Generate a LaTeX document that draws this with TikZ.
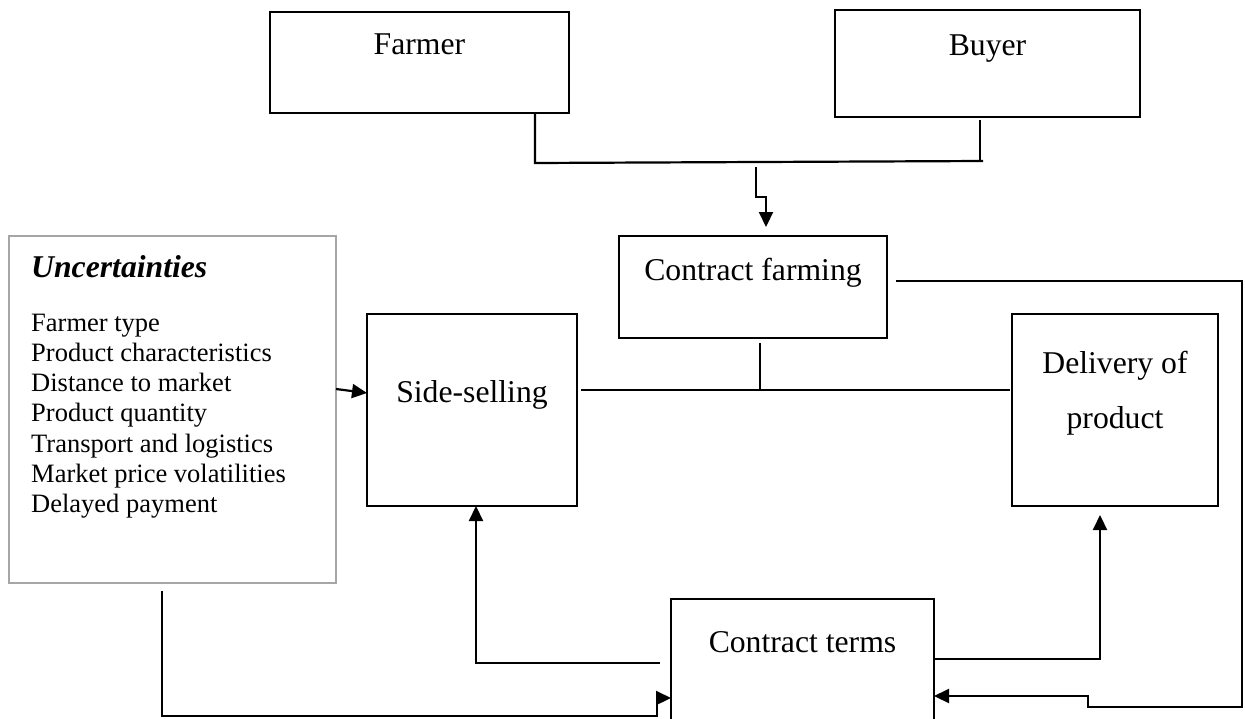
\documentclass[tikz,border=0pt]{standalone}
\usepackage{fontspec}
\setmainfont{Liberation Serif}
\usetikzlibrary{arrows.meta}
\begin{document}
\begin{tikzpicture}[x=1pt,y=-1pt,
  box/.style={draw=black, line width=2.2pt, inner sep=0pt, outer sep=0pt},
  greybox/.style={draw=black!35, line width=2pt, inner sep=0pt, outer sep=0pt},
  conn/.style={line width=2.2pt},
  arr/.style={conn, -{Triangle[length=15pt,width=14pt]}},
  lbl/.style={anchor=base, inner sep=0pt, font=\fontsize{31.7}{38}\selectfont},
  listitem/.style={anchor=base west, inner sep=0pt, font=\fontsize{26.5}{30}\selectfont}]

% canvas
\fill[white] (0,0) rectangle (1245,718);
\clip (0,0) rectangle (1245,718);

% boxes
\node[box, minimum width=299pt, minimum height=101pt] (farmer) at (419.5,62.5) {};
\node[box, minimum width=305pt, minimum height=107pt] (buyer)  at (987.5,63.5) {};
\node[box, minimum width=268pt, minimum height=102pt] (cf)     at (753,287) {};
\node[box, minimum width=210pt, minimum height=192pt] (side)   at (472,410) {};
\node[box, minimum width=206pt, minimum height=192pt] (deliv)  at (1115,410) {};
\node[box, minimum width=263pt, minimum height=161pt] (terms)  at (802.5,679.5) {};
\node[greybox, minimum width=327pt, minimum height=347pt] (unc) at (172.5,409.5) {};

% box labels
\node[lbl] (farmerlbl) at (419.5,54) {Farmer};
\node[lbl] (buyerlbl)  at (987.5,55) {Buyer};
\node[lbl] (cflbl)     at (753,280) {Contract farming};
\node[lbl] (sidelbl)   at (472,402) {Side-selling};
\node[lbl] (deliv1)    at (1115,373) {Delivery of};
\node[lbl] (deliv2)    at (1115,428) {product};
\node[lbl] (termslbl)  at (802.5,652) {Contract terms};

% uncertainties list
\node[anchor=base west, inner sep=0pt, font=\fontsize{31.7}{38}\selectfont\bfseries\itshape]
  (unchead) at (31,277) {Uncertainties};
\foreach \t [count=\i from 0] in {Farmer type, Product characteristics,
    Distance to market, Product quantity, Transport and logistics,
    Market price volatilities, Delayed payment}
  \node[listitem] (item\i) at (31,331+30.3*\i) {\t};

% farmer and buyer join, then down to contract farming
\coordinate (fjoin) at (535,163);
\coordinate (bjoin) at (983,161);
\coordinate (bdrop) at (980,120);
\draw[conn] (fjoin |- farmer.south) -- (fjoin) -- (bjoin);
\draw[conn] (bdrop) -- (bdrop |- bjoin);

\coordinate (down1) at (756,167);
\coordinate (jog) at (766,197);
\draw[arr, shorten >=9pt] (down1) -- (down1 |- jog) -- (jog) -- (jog |- cf.north);

% contract farming splits to side-selling and delivery
\coordinate (mid) at (760,390);
\coordinate (stubtop) at (760,343);
\draw[conn, shorten <=4pt, shorten >=2pt] (side.east |- mid) -- (deliv.west |- mid);
\draw[conn] (stubtop) -- (mid);

% uncertainties to side-selling
\coordinate (uout) at (336,389);
\coordinate (uin) at (367,393);
\draw[arr] (uout) -- (uin);

% contract terms back to side-selling
\coordinate (tl) at (660,663);
\coordinate (tlc) at (476,663);
\draw[arr] (tl) -- (tlc) -- (tlc |- side.south);

% contract terms to delivery of product
\coordinate (tr) at (1100,659);
\draw[arr, shorten >=9pt] (terms.east |- tr) -- (tr) -- (tr |- deliv.south);

% uncertainties down into contract terms
\coordinate (ub) at (162,591);
\coordinate (ubc) at (162,716);
\coordinate (ujog) at (657,716);
\coordinate (ujog2) at (657,698);
\draw[arr] (ub) -- (ubc) -- (ujog) -- (ujog2) -- (ujog2 -| terms.west);

% contract farming loop round the right into contract terms
\coordinate (cfout) at (896,281);
\coordinate (rc) at (1242,281);
\coordinate (rb) at (1242,707);
\coordinate (stepdn) at (1088,707);
\coordinate (stepup) at (1088,696);
\draw[arr] (cfout) -- (rc) -- (rb) -- (stepdn) -- (stepup) -- (stepup -| terms.east);

\end{tikzpicture}
\end{document}
